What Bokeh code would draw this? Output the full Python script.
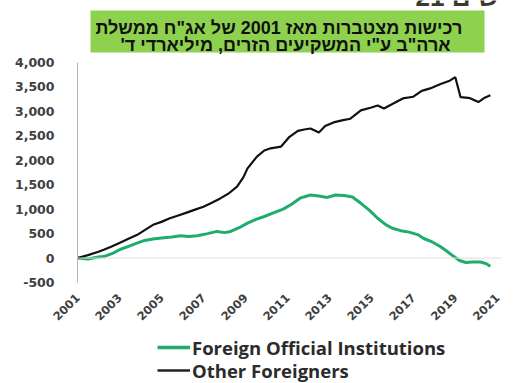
from bokeh.plotting import figure
from bokeh.layouts import column
from bokeh.models import (Range1d, NumeralTickFormatter, FixedTicker, Span, Label,
                          BoxAnnotation, Legend, LegendItem)
from bokeh.embed import file_html
from bokeh.resources import INLINE
import math

# --- data ---
years_other = [2001.0, 2001.5, 2002.0, 2002.25, 2002.6, 2003.05, 2003.4, 2003.85, 2004.2, 2004.6,
               2005.0, 2005.4, 2005.8, 2006.2, 2006.6, 2007.0, 2007.4, 2007.8, 2008.2, 2008.6,
               2008.9, 2009.1, 2009.55, 2009.9, 2010.2, 2010.7, 2011.1, 2011.5, 2011.8, 2012.1,
               2012.5, 2012.8, 2013.2, 2013.6, 2014.0, 2014.5, 2015.0, 2015.3, 2015.6, 2016.0,
               2016.5, 2017.0, 2017.4, 2017.8, 2018.3, 2018.7, 2019.0, 2019.25, 2019.5, 2019.7,
               2020.1, 2020.4, 2020.67]
other_foreigners = [0, 60, 130, 170, 230, 320, 390, 475, 570, 680,
                    740, 815, 870, 930, 990, 1050, 1130, 1220, 1320, 1460,
                    1650, 1835, 2075, 2200, 2245, 2280, 2480, 2600, 2630, 2650,
                    2570, 2700, 2775, 2815, 2850, 3020, 3080, 3120, 3060, 3150,
                    3265, 3300, 3420, 3470, 3560, 3620, 3700, 3290, 3280, 3270,
                    3190, 3280, 3330]

years_official = [2001.0, 2001.5, 2002.0, 2002.25, 2002.7, 2003.05, 2003.4, 2003.8, 2004.2, 2004.6,
                  2005.0, 2005.5, 2005.9, 2006.3, 2006.7, 2007.2, 2007.65, 2008.0, 2008.3, 2008.7,
                  2009.1, 2009.5, 2009.9, 2010.3, 2010.8, 2011.2, 2011.6, 2012.1, 2012.5, 2012.9,
                  2013.3, 2013.7, 2014.1, 2014.5, 2014.9, 2015.3, 2015.7, 2016.0, 2016.4, 2016.8,
                  2017.2, 2017.5, 2017.9, 2018.3, 2018.6, 2018.9, 2019.2, 2019.5, 2019.8, 2020.2,
                  2020.5, 2020.67]
foreign_official = [0, -20, 20, 30, 100, 180, 235, 300, 360, 390,
                    410, 430, 455, 440, 455, 500, 545, 520, 545, 620,
                    715, 790, 850, 920, 1000, 1100, 1225, 1290, 1270, 1240,
                    1290, 1280, 1250, 1120, 980, 815, 680, 610, 560, 530,
                    480, 400, 330, 230, 140, 40, -50, -90, -80, -80,
                    -120, -170]

x_ticks = [2001, 2003, 2005, 2007, 2009, 2011, 2013, 2015, 2017, 2019, 2021]
y_ticks = [-500, 0, 500, 1000, 1500, 2000, 2500, 3000, 3500, 4000]

series_names = ["Foreign Official Institutions", "Other Foreigners"]
title_lines = ["\u200fרכישות מצטברות מאז 2001 של אג\"ח ממשלת\u200f",
               "\u200fארה\"ב ע\"י המשקיעים הזרים, מיליארדי ד'\u200f"]
chart_number = "\u200fתרשים 21\u200f"

GREEN = "#1fad6b"
LBL = "#404040"
W = 529
BL, BR = 77, 28          # left/right borders shared by all strips (frames align)
FX0, FX1 = BL, W - BR    # frame extent in page pixels


def strip(height):
    f = figure(width=W, height=height, output_backend="svg", toolbar_location=None,
               x_range=Range1d(FX0, FX1), y_range=Range1d(0, height),
               x_axis_type=None, y_axis_type=None,
               min_border_left=BL, min_border_right=BR, min_border_top=0, min_border_bottom=0)
    f.outline_line_color = None
    f.xgrid.visible = False
    f.ygrid.visible = False
    return f


# ---------- title strip (y measured from its bottom) ----------
TH = 56
tf = strip(TH)
tf.add_layout(BoxAnnotation(left=90, right=484, top=TH - 10, bottom=TH - 52,
                            fill_color="#8ed14f", fill_alpha=1, line_color=None))
tf.add_layout(Label(x=95, y=TH - 27.5, text=title_lines[0], text_align="left",
                    text_baseline="middle", text_font="Liberation Sans",
                    text_font_style="bold", text_font_size="18px", text_color="#111111"))
tf.add_layout(Label(x=120, y=TH - 44, text=title_lines[1], text_align="left",
                    text_baseline="middle", text_font="Liberation Sans",
                    text_font_style="bold", text_font_size="18px", text_color="#111111"))
tf.add_layout(Label(x=415, y=TH + 4, text=chart_number, text_align="left",
                    text_baseline="alphabetic", text_font="Liberation Sans",
                    text_font_style="bold", text_font_size="26px", text_color="#3a3a30"))

# ---------- main chart ----------
p = figure(width=W, height=274, output_backend="svg", toolbar_location=None,
           x_range=Range1d(2001, 2021.2), y_range=Range1d(-500, 4000),
           min_border_left=BL, min_border_right=BR, min_border_top=6, min_border_bottom=48)
p.outline_line_color = None
p.xgrid.visible = False
p.ygrid.visible = False

p.yaxis.ticker = FixedTicker(ticks=y_ticks)
p.yaxis.formatter = NumeralTickFormatter(format="0,0")
p.yaxis.axis_line_color = "#b4b4b4"
p.yaxis.major_tick_line_color = None
p.yaxis.minor_tick_line_color = None
p.yaxis.major_label_standoff = 17
p.yaxis.major_label_text_font = "DejaVu Sans"
p.yaxis.major_label_text_font_style = "bold"
p.yaxis.major_label_text_font_size = "12.5px"
p.yaxis.major_label_text_color = LBL

p.xaxis.ticker = FixedTicker(ticks=x_ticks)
p.xaxis.axis_line_color = None
p.xaxis.major_tick_line_color = None
p.xaxis.minor_tick_line_color = None
p.xaxis.major_label_orientation = math.pi / 4
p.xaxis.major_label_standoff = 7
p.xaxis.major_label_text_font = "DejaVu Sans"
p.xaxis.major_label_text_font_style = "bold"
p.xaxis.major_label_text_font_size = "11.5px"
p.xaxis.major_label_text_color = LBL

p.add_layout(Span(location=0, dimension="width", line_color="#e3dcdc", line_width=1))

p.line(years_official, foreign_official, line_color=GREEN, line_width=3)
p.line(years_other, other_foreigners, line_color="#111111", line_width=2.2)

# ---------- legend strip ----------
LH = 53
lf = strip(LH)
nan = float("nan")
sw_off = lf.line([nan], [nan], line_color=GREEN, line_width=3.5)
sw_oth = lf.line([nan], [nan], line_color="#222222", line_width=2.5)


def legend_row(label, rend, vy):
    return Legend(items=[LegendItem(label=label, renderers=[rend])],
                  location=(80, vy), orientation="vertical",
                  label_text_font="Open Sans", label_text_font_style="bold",
                  label_text_font_size="18.5px", label_text_color="#2b2b2b",
                  glyph_width=33, glyph_height=20, label_height=20, spacing=0,
                  padding=0, margin=0, label_standoff=2,
                  border_line_color=None, background_fill_alpha=0)


lf.add_layout(legend_row(series_names[0], sw_off, 23.5), "center")
lf.add_layout(legend_row(series_names[1], sw_oth, 0.5), "center")

layout = column(tf, p, lf, spacing=0)
open("out.html", "w").write(file_html(layout, INLINE))
